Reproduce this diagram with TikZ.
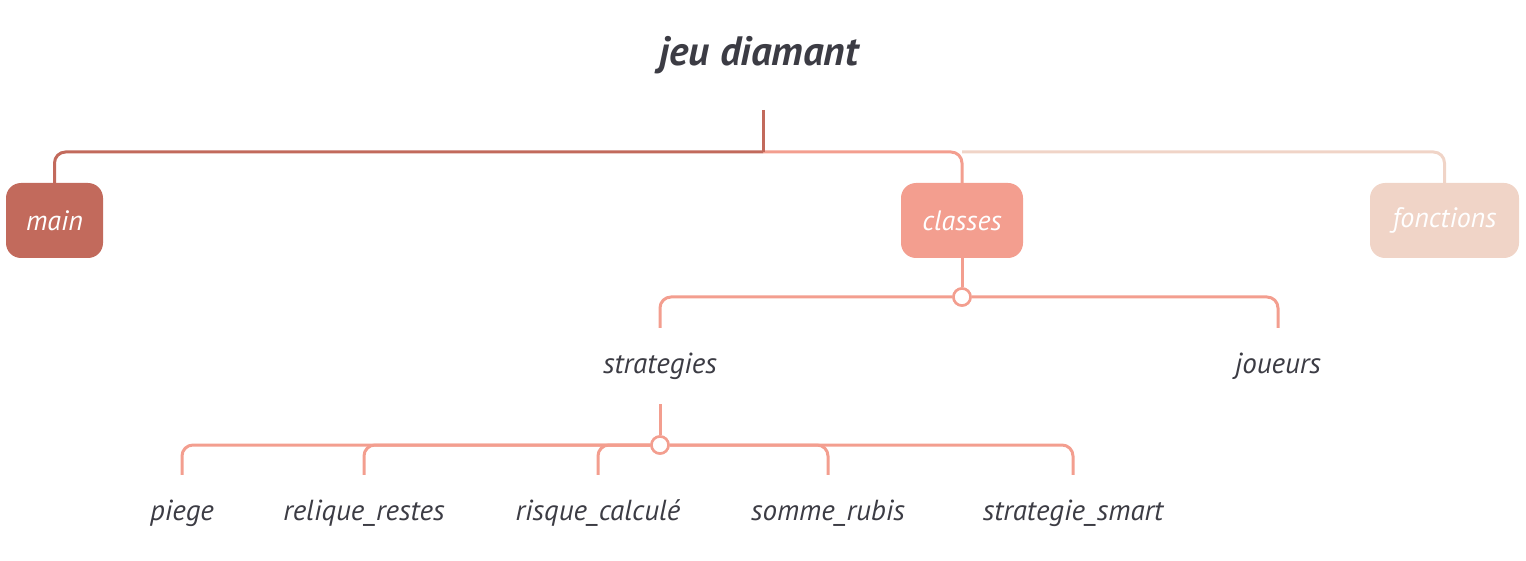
\documentclass[tikz,border=0pt]{standalone}
\usepackage{fontspec}
\setmainfont{PT Sans}
\begin{document}
\begin{tikzpicture}[x=1pt,y=-1pt,
  conn/.style={line width=3pt,rounded corners=11pt},
  boxnode/.style={rounded corners=15pt,minimum width=97pt,minimum height=75pt,inner sep=0pt,text=white,font=\fontsize{28}{32}\selectfont\itshape},
  lbl/.style={inner sep=0pt,minimum height=76pt,text=txt,font=\fontsize{29}{32}\selectfont\itshape},
  hubc/.style={circle,draw=salm,line width=2.5pt,fill=white,minimum size=17pt,inner sep=0pt}]
\definecolor{txt}{HTML}{3C3C44}
\definecolor{dred}{HTML}{C26A5C}
\definecolor{salm}{HTML}{F39E8F}
\definecolor{pale}{HTML}{F0D4C7}
\useasboundingbox (0,0) rectangle (1526,561);
\node[inner sep=0pt,text=txt,font=\fontsize{41}{46}\selectfont\bfseries\itshape] (title) at (759,55) {jeu diamant};
\coordinate (stemtop) at (763,110);
\coordinate (hub) at (763,152);
\coordinate (hubr) at (962,152);
\node[boxnode,fill=dred] (main) at (54.5,220.5) {main};
\node[boxnode,fill=salm,minimum width=122pt] (classes) at (962,220.5) {classes};
\node[boxnode,fill=pale,minimum width=149pt] (fonctions) at (1444.5,220.5) {fonctions};
% top connectors
\draw[conn,pale] (hubr) -| (fonctions.north);
\draw[conn,salm] (hub) -| (classes.north);
\draw[conn,dred] (hub) -| (main.north);
\draw[line width=3pt,dred] (stemtop) -- (hub);
% level 2
\node[hubc] (c1) at (962,297) {};
\node[lbl] (strategies) at (660,366) {strategies};
\node[lbl] (joueurs) at (1278,366) {joueurs};
\draw[line width=3pt,salm] (classes.south) -- (c1.north);
\draw[conn,salm] (c1.west) -| (strategies.north);
\draw[conn,salm] (c1.east) -| (joueurs.north);
% level 3
\node[hubc] (c2) at (660,445) {};
\node[lbl] (piege) at (182,513) {piege};
\node[lbl] (relique) at (364,513) {relique\_restes};
\node[lbl] (risque) at (598,513) {risque\_calculé};
\node[lbl] (somme) at (828,513) {somme\_rubis};
\node[lbl] (smart) at (1073,513) {strategie\_smart};
\draw[line width=3pt,salm] (strategies.south) -- (c2.north);
\draw[conn,salm] (c2.west) -| (piege.north);
\draw[conn,salm] (c2.west) -| (relique.north);
\draw[conn,salm] (c2.west) -| (risque.north);
\draw[conn,salm] (c2.east) -| (somme.north);
\draw[conn,salm] (c2.east) -| (smart.north);
\node[hubc] at (c1) {};
\node[hubc] at (c2) {};
\end{tikzpicture}
\end{document}
